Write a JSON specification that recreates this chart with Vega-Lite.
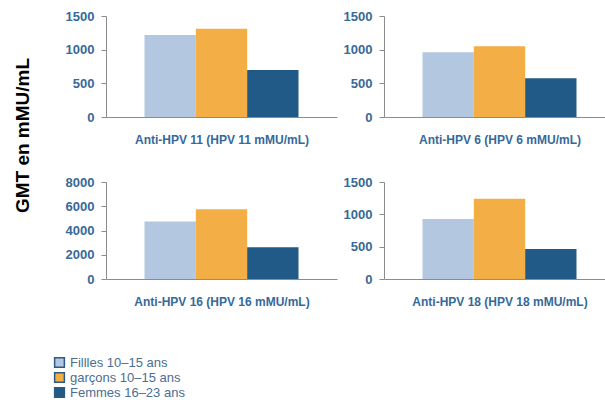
{
  "$schema": "https://vega.github.io/schema/vega-lite/v6.json",
  "background": "white",
  "padding": {"left": 13, "top": 10, "right": 0, "bottom": 0},
  "data": {"values": [
    {"panel": "11", "group": "Fillles 10–15 ans", "gmt": 1218},
    {"panel": "11", "group": "garçons 10–15 ans", "gmt": 1311},
    {"panel": "11", "group": "Femmes 16–23 ans", "gmt": 698},
    {"panel": "6", "group": "Fillles 10–15 ans", "gmt": 961},
    {"panel": "6", "group": "garçons 10–15 ans", "gmt": 1050},
    {"panel": "6", "group": "Femmes 16–23 ans", "gmt": 575},
    {"panel": "16", "group": "Fillles 10–15 ans", "gmt": 4750},
    {"panel": "16", "group": "garçons 10–15 ans", "gmt": 5746},
    {"panel": "16", "group": "Femmes 16–23 ans", "gmt": 2620},
    {"panel": "18", "group": "Fillles 10–15 ans", "gmt": 927},
    {"panel": "18", "group": "garçons 10–15 ans", "gmt": 1240},
    {"panel": "18", "group": "Femmes 16–23 ans", "gmt": 464}
  ]},
  "title": {"text": "GMT en mMU/mL", "orient": "left", "anchor": "middle", "dx": 70, "font": "Liberation Sans", "fontSize": 19, "fontWeight": "bold", "color": "#000000", "offset": 20},
  "columns": 2,
  "spacing": {"row": 31, "column": 6},
  "concat": [
    {
      "width": 231, "height": 101,
      "transform": [{"filter": "datum.panel === '11'"}],
      "mark": {"type": "bar"},
      "encoding": {
        "x": {"field": "group", "type": "nominal", "sort": ["Fillles 10–15 ans", "garçons 10–15 ans", "Femmes 16–23 ans"], "scale": {"paddingInner": 0, "paddingOuter": 0.75}, "axis": {"title": "Anti-HPV 11 (HPV 11 mMU/mL)", "labels": false, "ticks": false}},
        "y": {"field": "gmt", "type": "quantitative", "scale": {"domain": [0, 1500], "nice": false}, "axis": {"values": [0, 500, 1000, 1500], "format": "d", "title": null}},
        "color": {"field": "group", "type": "nominal", "sort": ["Fillles 10–15 ans", "garçons 10–15 ans", "Femmes 16–23 ans"], "scale": {"domain": ["Fillles 10–15 ans", "garçons 10–15 ans", "Femmes 16–23 ans"], "range": ["#b3c8e0", "#f3ae45", "#215a86"]}, "legend": {"title": null}}
      }
    },
    {
      "width": 231, "height": 101,
      "transform": [{"filter": "datum.panel === '6'"}],
      "mark": {"type": "bar"},
      "encoding": {
        "x": {"field": "group", "type": "nominal", "sort": ["Fillles 10–15 ans", "garçons 10–15 ans", "Femmes 16–23 ans"], "scale": {"paddingInner": 0, "paddingOuter": 0.75}, "axis": {"title": "Anti-HPV 6 (HPV 6 mMU/mL)", "labels": false, "ticks": false}},
        "y": {"field": "gmt", "type": "quantitative", "scale": {"domain": [0, 1500], "nice": false}, "axis": {"values": [0, 500, 1000, 1500], "format": "d", "title": null}},
        "color": {"field": "group", "type": "nominal", "sort": ["Fillles 10–15 ans", "garçons 10–15 ans", "Femmes 16–23 ans"], "scale": {"domain": ["Fillles 10–15 ans", "garçons 10–15 ans", "Femmes 16–23 ans"], "range": ["#b3c8e0", "#f3ae45", "#215a86"]}, "legend": {"title": null}}
      }
    },
    {
      "width": 231, "height": 97,
      "transform": [{"filter": "datum.panel === '16'"}],
      "mark": {"type": "bar"},
      "encoding": {
        "x": {"field": "group", "type": "nominal", "sort": ["Fillles 10–15 ans", "garçons 10–15 ans", "Femmes 16–23 ans"], "scale": {"paddingInner": 0, "paddingOuter": 0.75}, "axis": {"title": "Anti-HPV 16 (HPV 16 mMU/mL)", "labels": false, "ticks": false}},
        "y": {"field": "gmt", "type": "quantitative", "scale": {"domain": [0, 8000], "nice": false}, "axis": {"values": [0, 2000, 4000, 6000, 8000], "format": "d", "title": null}},
        "color": {"field": "group", "type": "nominal", "sort": ["Fillles 10–15 ans", "garçons 10–15 ans", "Femmes 16–23 ans"], "scale": {"domain": ["Fillles 10–15 ans", "garçons 10–15 ans", "Femmes 16–23 ans"], "range": ["#b3c8e0", "#f3ae45", "#215a86"]}, "legend": {"title": null}}
      }
    },
    {
      "width": 231, "height": 97,
      "transform": [{"filter": "datum.panel === '18'"}],
      "mark": {"type": "bar"},
      "encoding": {
        "x": {"field": "group", "type": "nominal", "sort": ["Fillles 10–15 ans", "garçons 10–15 ans", "Femmes 16–23 ans"], "scale": {"paddingInner": 0, "paddingOuter": 0.75}, "axis": {"title": "Anti-HPV 18 (HPV 18 mMU/mL)", "labels": false, "ticks": false}},
        "y": {"field": "gmt", "type": "quantitative", "scale": {"domain": [0, 1500], "nice": false}, "axis": {"values": [0, 500, 1000, 1500], "format": "d", "title": null}},
        "color": {"field": "group", "type": "nominal", "sort": ["Fillles 10–15 ans", "garçons 10–15 ans", "Femmes 16–23 ans"], "scale": {"domain": ["Fillles 10–15 ans", "garçons 10–15 ans", "Femmes 16–23 ans"], "range": ["#b3c8e0", "#f3ae45", "#215a86"]}, "legend": {"title": null}}
      }
    }
  ],
  "config": {
    "view": {"stroke": null},
    "axis": {"grid": false, "domainColor": "#8c8c8c", "tickColor": "#8c8c8c", "tickSize": 5, "labelFont": "Liberation Sans", "labelFontSize": 13, "labelFontWeight": "bold", "labelColor": "#36699a", "labelPadding": 7, "titleFont": "Liberation Sans", "titleFontSize": 12, "titleFontWeight": "bold", "titleColor": "#36699a", "titlePadding": 17},
    "legend": {"orient": "none", "legendX": -53, "legendY": 340, "direction": "vertical", "symbolType": "square", "symbolSize": 95, "symbolStrokeColor": "#2b5a86", "symbolStrokeWidth": 1.5, "labelFont": "Liberation Sans", "labelFontSize": 13, "labelColor": "#4a6d93", "rowPadding": -2, "labelOffset": 4}
  }
}
